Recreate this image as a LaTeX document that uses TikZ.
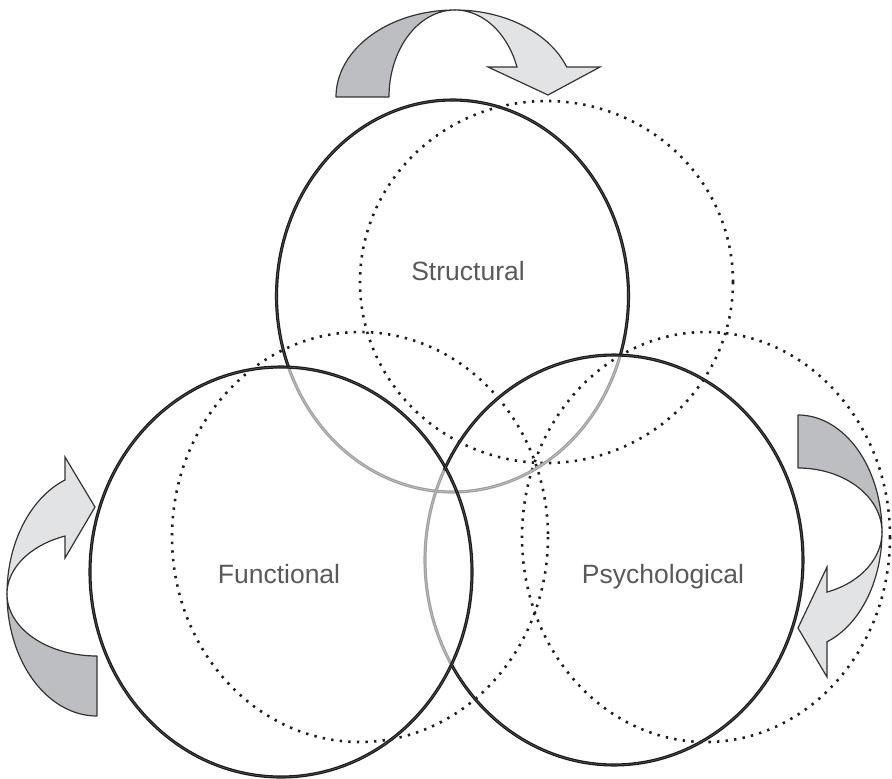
\documentclass[tikz,border=0pt]{standalone}
\usepackage{fontspec}
\setmainfont{Liberation Sans}

\definecolor{ringdark}{HTML}{1A1A1A}
\definecolor{ringmid}{HTML}{555555}
\definecolor{ringgray}{HTML}{A0A0A0}
\definecolor{ringgraylt}{HTML}{C2C2C2}
\definecolor{dotcol}{HTML}{1E1E1E}
\definecolor{labelgray}{HTML}{595959}
\definecolor{arrdark}{HTML}{BDBEC2}
\definecolor{arrlight}{HTML}{E2E3E5}
\definecolor{arredge}{HTML}{333333}

% elliptic arc: centre (#1,#2), radii #3,#4, angles #5..#6
\newcommand\ovalarc[6]{plot[domain=#5:#6,samples=180] ({#1+#3*cos(\x)},{#2+#4*sin(\x)})}

% bent block arrow in a local frame: base line y=0, bulging upwards
\newcommand\drawbent{%
  \pgfmathsetmacro\Ts{asin(\Ss/\Hh)}%
  \filldraw[arrowback] plot[domain=180:90,samples=60] ({\Ro*cos(\x)},{-\Hh*sin(\x)})
    -- plot[domain=90:180,samples=60] ({\Ri*cos(\x)},{-\Hh*sin(\x)}) -- cycle;
  \filldraw[arrowfront] plot[domain=90:\Ts,samples=60] ({\Ro*cos(\x)},{-\Hh*sin(\x)})
    -- (\Ao,-\Ss) -- (\Tx,\Ty) -- (\Ai,-\Ss)
    -- plot[domain=\Ts:90,samples=60] ({\Ri*cos(\x)},{-\Hh*sin(\x)}) -- cycle;
}

\begin{document}
\begin{tikzpicture}[x=1pt,y=-1pt,
  ring/.style={draw=ringdark,line width=1.25pt,double=ringmid,double distance=0.6pt},
  ringback/.style={draw=ringgray,line width=1.25pt,double=ringgraylt,double distance=0.6pt},
  halo/.style={draw=dotcol,line width=2.6pt,dash pattern=on 2.4pt off 6.2pt},
  lbl/.style={text=labelgray,font=\fontsize{26.5}{30}\selectfont,inner sep=0pt,anchor=base},
  arrowback/.style={fill=arrdark,draw=arredge,line width=1.2pt,line join=round},
  arrowfront/.style={fill=arrlight,draw=arredge,line width=1.2pt,line join=miter},
]
\useasboundingbox (0,0) rectangle (892,779);

% dotted companion circles
\draw[halo] (546.5,282) ellipse [x radius=186.5,y radius=181];
\draw[halo] (360,537) ellipse [x radius=188,y radius=205];
\draw[halo] (706,537) ellipse [x radius=184,y radius=205];

% hidden parts of the rings
\draw[ringback] \ovalarc{452.5}{296}{176}{196}{17.5}{158.5};
\draw[ringback] \ovalarc{614}{560}{189}{205}{149.2}{206};

% visible parts of the rings
\draw[ring] \ovalarc{452.5}{296}{176}{196}{158.5}{377.5};
\draw[ring] (281,572) ellipse [x radius=191,y radius=205];
\draw[ring] \ovalarc{614}{560}{189}{205}{206}{509.2};

% labels
\node[lbl] (structural) at (468,280) {Structural};
\node[lbl] (functional) at (279,583) {Functional};
\node[lbl] (psychological) at (663,583) {Psychological};

% bent arrows
\begin{scope}[shift={(455,97)}]
  \def\Ro{119}\def\Ri{66}\def\Hh{87}\def\Ss{30}
  \def\Ai{33}\def\Ao{145}\def\Tx{93}\def\Ty{-2}
  \drawbent
\end{scope}
\begin{scope}[shift={(97,594)},rotate=90]
  \def\Ro{122}\def\Ri{62}\def\Hh{90}\def\Ss{32}
  \def\Ai{36}\def\Ao{137}\def\Tx{87}\def\Ty{-2}
  \drawbent
\end{scope}
\begin{scope}[shift={(798,532)},rotate=-90]
  \def\Ro{117}\def\Ri{64}\def\Hh{84}\def\Ss{29}
  \def\Ai{35}\def\Ao{145}\def\Tx{96}\def\Ty{0}
  \drawbent
\end{scope}
\end{tikzpicture}
\end{document}
